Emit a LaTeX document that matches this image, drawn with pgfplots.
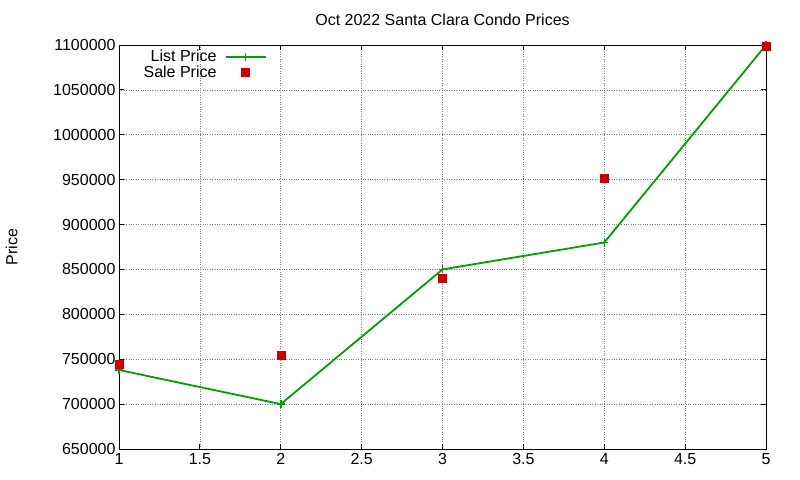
\documentclass[border=0pt]{standalone}
\usepackage{fontspec}
\setmainfont{Liberation Sans}
\usepackage{pgfplots}
\pgfplotsset{compat=1.18}
\definecolor{listgreen}{RGB}{0,160,0}
\definecolor{salered}{RGB}{204,0,0}
\pgfplotsset{
  linelegend/.style={legend image code/.code={
      \draw[##1, line width=2bp, mark repeat=2, mark phase=2]
      plot coordinates {(0bp,0bp) (20bp,0bp) (40bp,0bp)};}},
  marklegend/.style={legend image code/.code={
      \path[draw=none, fill=none] (0bp,-2bp) rectangle (40bp,2bp);
      \draw[##1] plot coordinates {(20bp,0bp)};}},
}
\begin{document}
\begin{tikzpicture}[x=1bp,y=1bp]
  % fixed page of 800x480
  \path[use as bounding box] (0,0) rectangle (800,480);
  \begin{axis}[
    at={(119bp,31bp)}, anchor=south west,
    scale only axis,
    width=647bp, height=404bp,
    xmin=1, xmax=5, ymin=650000, ymax=1100000,
    xtick={1,1.5,...,5},
    ytick={650000,700000,...,1100000},
    scaled ticks=false,
    /pgf/number format/assume math mode=true,
    /pgf/number format/.cd, set thousands separator={}, fixed, /pgfplots/.cd,
    tick label style={font=\fontsize{16bp}{18bp}\selectfont},
    label style={font=\fontsize{16bp}{18bp}\selectfont},
    title style={font=\fontsize{16bp}{18bp}\selectfont, at={(0.5,1)}, above, yshift=10bp},
    title={Oct 2022 Santa Clara Condo Prices},
    ylabel={Price},
    ylabel style={at={(axis description cs:-0.166,0.5)}, anchor=center},
    xticklabel style={yshift=-1bp},
    tick align=inside,
    major tick length=5bp,
    tick style={black, line width=0.8bp},
    axis line style={black, line width=0.9bp},
    grid=major,
    major grid style={gray, dotted, line width=0.7bp},
    legend plot pos=right,
    legend cell align=right,
    legend style={draw=none, fill=none, at={(0.03,0.998)}, anchor=north west,
      font=\fontsize{16bp}{18bp}\selectfont, row sep=-1.5bp,
      /tikz/every odd column/.append style={column sep=6bp}},
  ]
  % list price
  \addplot[listgreen, line width=1.8bp, mark=+, mark size=4bp,
    mark options={line width=1.5bp}, linelegend]
    coordinates {(1,738000) (2,700000) (3,850000) (4,880000) (5,1100000)};
  % sale price
  \addplot[only marks, mark=square*, mark size=4bp, salered,
    mark options={draw=salered, fill=salered}, marklegend]
    coordinates {(1,745000) (2,755000) (3,840000) (4,952000) (5,1099000)};
  \legend{List Price, Sale Price}
  \end{axis}
\end{tikzpicture}
\end{document}
